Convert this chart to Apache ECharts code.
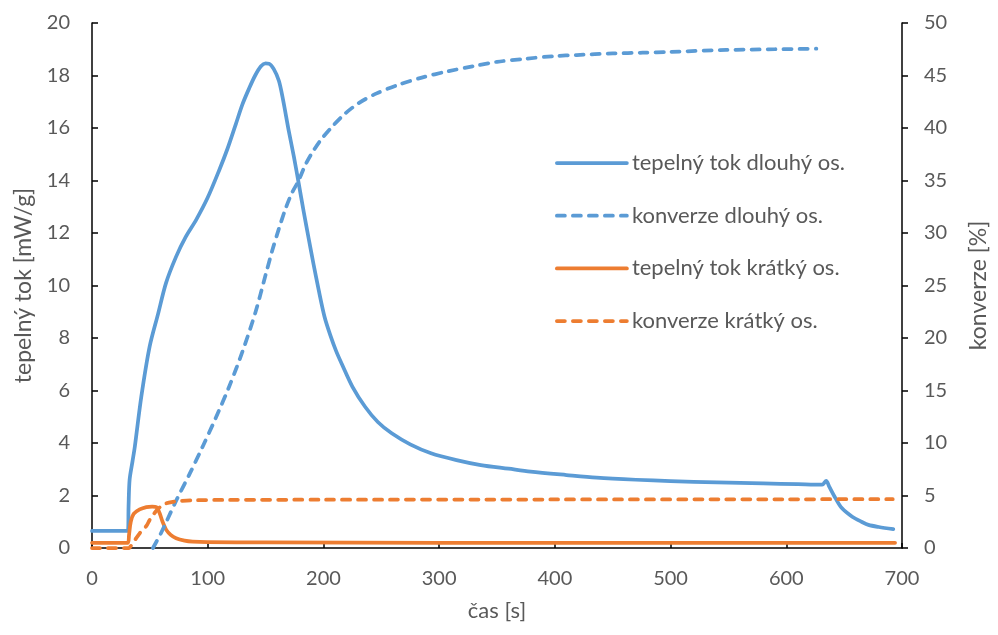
<!DOCTYPE html>
<html>
<head>
<meta charset="utf-8">
<script src="https://cdn.jsdelivr.net/npm/echarts@6/dist/echarts.min.js"></script>
<style>html,body{margin:0;padding:0;background:#fff}#c{width:998px;height:635px}</style>
</head>
<body>
<div id="c"></div>
<script>
// ---- data (time in s) ----
const xTicks = [0, 100, 200, 300, 400, 500, 600, 700];
const leftTicks = [0, 2, 4, 6, 8, 10, 12, 14, 16, 18, 20];
const rightTicks = [0, 5, 10, 15, 20, 25, 30, 35, 40, 45, 50];
const seriesNames = ['tepelný tok dlouhý os.', 'konverze dlouhý os.', 'tepelný tok krátký os.', 'konverze krátký os.'];

// tepelný tok dlouhý os. [mW/g]
const heatLongT = [0, 31, 31.6, 32.5, 35, 37, 42.6, 49.8, 57, 64, 72.7, 81, 90, 100, 110, 117, 124.3, 130, 135.7, 141, 146, 150, 153, 157, 161.5, 165, 170, 174.5, 178.6, 183, 187.2, 191.5, 195.8, 201, 206, 211, 216, 225, 236, 247, 259, 275, 293, 315, 336, 360, 379, 410, 436, 470, 500, 540, 580, 610, 631, 634.5, 637, 642.5, 648, 657, 665, 671, 680, 692.5];
const heatLongV = [0.65, 0.65, 1.6, 2.6, 3.3, 3.86, 5.76, 7.67, 8.9, 10.1, 11.1, 11.85, 12.5, 13.35, 14.4, 15.2, 16.15, 16.9, 17.5, 18.0, 18.35, 18.46, 18.45, 18.25, 17.8, 17.1, 15.9, 14.9, 13.9, 12.8, 11.8, 10.8, 9.85, 8.8, 8.1, 7.5, 7.0, 6.15, 5.38, 4.8, 4.37, 3.95, 3.61, 3.35, 3.16, 3.02, 2.91, 2.78, 2.68, 2.6, 2.55, 2.5, 2.46, 2.43, 2.41, 2.56, 2.35, 1.9, 1.52, 1.19, 1.0, 0.88, 0.8, 0.72];

// konverze dlouhý os. [%]
const convLongT = [52.7, 60, 72.7, 85, 95.6, 107, 118.5, 130, 141.4, 150, 155.7, 161.5, 167.2, 172.7, 178.6, 184, 190, 198, 207.3, 218, 230.2, 246, 264.5, 285, 307.5, 330, 350, 375, 400, 419, 450, 476, 500, 548, 590, 626];
const convLongV = [0, 1.5, 4.5, 7.2, 9.65, 12.4, 15.36, 18.7, 22.5, 26.0, 28.3, 30.4, 32.3, 33.8, 35.0, 36.4, 37.6, 38.9, 40.1, 41.3, 42.35, 43.3, 44.1, 44.8, 45.4, 45.9, 46.3, 46.6, 46.85, 46.95, 47.1, 47.17, 47.25, 47.43, 47.5, 47.55];

// tepelný tok krátký os. [mW/g]
const heatShortT = [0, 31, 32, 33.5, 36, 41.2, 47, 52, 55.6, 58.4, 61, 64.2, 68, 72.7, 80, 87, 100, 150, 300, 500, 694];
const heatShortV = [0.2, 0.2, 0.5, 1.0, 1.3, 1.47, 1.56, 1.58, 1.56, 1.33, 1.0, 0.69, 0.5, 0.37, 0.28, 0.24, 0.22, 0.21, 0.2, 0.2, 0.2];

// konverze krátký os. [%]
const convShortT = [0, 32, 33, 41.2, 47, 50, 55.6, 60, 64.2, 70, 75, 87, 118.5, 200, 400, 600, 692];
const convShortV = [0, 0, 0.1, 1.4, 2.1, 2.7, 3.55, 4.0, 4.25, 4.4, 4.47, 4.55, 4.58, 4.6, 4.62, 4.64, 4.65];

const zip = (t, v) => t.map((x, i) => [x, v[i]]);

const BLUE = '#5B9BD5', ORANGE = '#ED7D31', TXT = '#595959';
const FONT = 'Lato';
const LW = 3.75;
const DASH = [8, 8];

const chart = echarts.init(document.getElementById('c'), null, {renderer: 'canvas'});

function lineSeries(name, data, color, dashed, yIndex) {
  return {
    name: name, type: 'line', data: data, yAxisIndex: yIndex,
    symbol: 'none', showSymbol: false, smooth: 0.3,
    lineStyle: {color: color, width: LW, type: dashed ? DASH : 'solid', cap: 'round', join: 'round'},
    itemStyle: {color: color},
    emphasis: {disabled: true},
    z: dashed ? 3 : 2
  };
}

chart.setOption({
  animation: false,
  backgroundColor: '#fff',
  textStyle: {fontFamily: FONT},
  grid: {left: 92, right: 90, top: 23, bottom: 87, containLabel: false},
  legend: {
    orient: 'vertical', left: 555, top: 151, padding: 0,
    itemWidth: 70, itemHeight: 24, itemGap: 28.7,
    itemStyle: {opacity: 0, borderWidth: 0},
    lineStyle: {width: LW, cap: 'round'},
    textStyle: {color: TXT, fontSize: 22, lineHeight: 24, fontFamily: FONT, padding: [0, 0, 0, 0]},
    data: seriesNames,
    selectedMode: false
  },
  xAxis: {
    type: 'value', min: 0, max: 700, interval: 100,
    name: 'čas [s]', nameLocation: 'middle', nameGap: 52,
    nameTextStyle: {color: TXT, fontSize: 22, fontFamily: FONT},
    axisLine: {show: true, onZero: false, lineStyle: {color: '#000', width: 1.5}},
    axisTick: {show: true, inside: true, length: 5, lineStyle: {color: '#000', width: 1.5}},
    axisLabel: {color: TXT, fontSize: 20, fontFamily: FONT, margin: 21,
      formatter: v => xTicks.includes(v) ? String(v) : ''},
    splitLine: {show: false}
  },
  yAxis: [{
    type: 'value', min: 0, max: 20, interval: 2, position: 'left',
    name: 'tepelný tok [mW/g]', nameLocation: 'middle', nameGap: 57, nameRotate: 90,
    nameTextStyle: {color: TXT, fontSize: 23, fontFamily: FONT},
    axisLine: {show: true, onZero: false, lineStyle: {color: '#000', width: 1.5}},
    axisTick: {show: true, inside: true, length: 6, lineStyle: {color: '#000', width: 1.5}},
    axisLabel: {color: TXT, fontSize: 20, fontFamily: FONT, margin: 22,
      formatter: v => leftTicks.includes(v) ? String(v) : ''},
    splitLine: {show: false}
  }, {
    type: 'value', min: 0, max: 50, interval: 5, position: 'right',
    name: 'konverze [%]', nameLocation: 'middle', nameGap: 65, nameRotate: 90,
    nameTextStyle: {color: TXT, fontSize: 23, fontFamily: FONT},
    axisLine: {show: true, onZero: false, lineStyle: {color: '#000', width: 1.5}},
    axisTick: {show: true, inside: false, length: 6, lineStyle: {color: '#000', width: 1.5}},
    axisLabel: {color: TXT, fontSize: 20, fontFamily: FONT, margin: 22,
      formatter: v => rightTicks.includes(v) ? String(v) : ''},
    splitLine: {show: false}
  }],
  series: [
    lineSeries(seriesNames[0], zip(heatLongT, heatLongV), BLUE, false, 0),
    lineSeries(seriesNames[1], zip(convLongT, convLongV), BLUE, true, 1),
    lineSeries(seriesNames[2], zip(heatShortT, heatShortV), ORANGE, false, 0),
    lineSeries(seriesNames[3], zip(convShortT, convShortV), ORANGE, true, 1)
  ]
});
</script>
</body>
</html>
